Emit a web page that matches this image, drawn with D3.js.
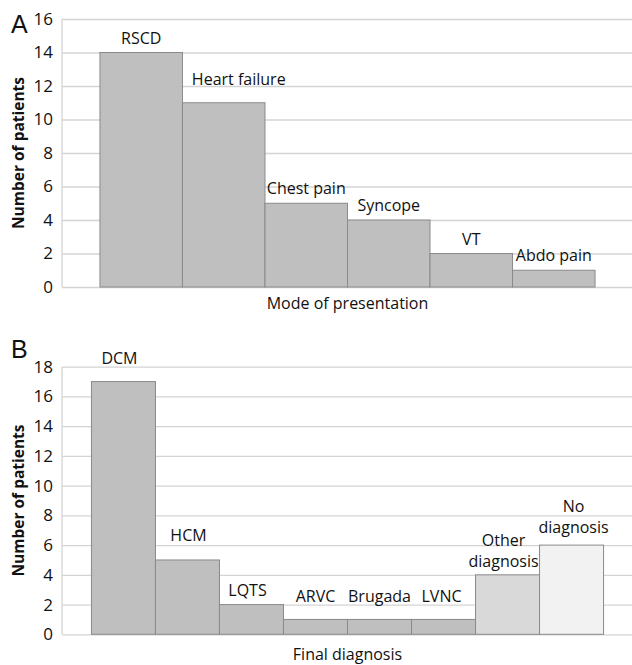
<!DOCTYPE html>
<html>
<head>
    <title>Presentation and diagnosis bar charts</title>
    <script src="https://cdnjs.cloudflare.com/ajax/libs/d3/7.8.5/d3.min.js"></script>
    <style>
        body { margin: 0; background: #fff; }
        .lbl { font-family: 'Open Sans', Lato, sans-serif; font-size: 16px; fill: #111; }
        .ttl { font-family: 'Open Sans', Lato, sans-serif; font-size: 15.5px; font-weight: bold; fill: #111; }
        .panel { font-family: 'Liberation Sans', Arial, sans-serif; font-size: 25px; fill: #111; }
    </style>
</head>
<body>
    <div id="chart"></div>

    <script>
//------------------------------------DATA--------------------------
        var modeCats = ["RSCD", "Heart failure", "Chest pain", "Syncope", "VT", "Abdo pain"];
        var modeValues = [14, 11, 5, 4, 2, 1];
        var modeTicks = [0, 2, 4, 6, 8, 10, 12, 14, 16];

        var diagCats = ["DCM", "HCM", "LQTS", "ARVC", "Brugada", "LVNC", "Other diagnosis", "No diagnosis"];
        var diagValues = [17, 5, 2, 1, 1, 1, 4, 6];
        var diagTicks = [0, 2, 4, 6, 8, 10, 12, 14, 16, 18];
//------------------------------------FINISHED----------------------

        // label tweaks (the labels were hand placed in the original)
        var nudgeA = { "Heart failure": [15, -9] };
        var nudgeB = { "DCM": [-4, -9], "HCM": [1, -10], "LQTS": [-4, 0],
                       "ARVC": [0, -8], "Brugada": [0, -8], "LVNC": [-2, -8],
                       "Other diagnosis": [-4, 1], "No diagnosis": [2, -3] };
        // two-line labels
        var wrapB = { "Other diagnosis": ["Other", "diagnosis"], "No diagnosis": ["No", "diagnosis"] };

        var svg = d3.select("#chart").append("svg")
            .attr("width", 632)
            .attr("height", 665);

        function fillPicker(name) {
            if (name === "Other diagnosis") { return "#d9d9d9"; }
            if (name === "No diagnosis") { return "#f2f2f2"; }
            return "#bfbfbf";
        }

//------------------------------------DRAWS ONE PANEL--------------------------
        function drawPanel(opt) {
            var g = svg.append("g");
            var left = 62, right = 633;

            var x = d3.scaleBand()
                .domain(opt.cats)
                .range([left, right])
                .paddingInner(0)
                .paddingOuter(0.46);
            var y = d3.scaleLinear()
                .domain([0, d3.max(opt.ticks)])
                .range([opt.bottom, opt.top]);

            //gridlines + tick labels from a left axis
            var axis = g.append("g")
                .attr("transform", "translate(" + left + ",0)")
                .call(d3.axisLeft(y).tickValues(opt.ticks).tickSize(-(right - left)).tickPadding(9));
            axis.select(".domain").remove();
            axis.selectAll(".tick line").attr("stroke", "#d4d4d4").attr("stroke-width", 1.3);
            axis.selectAll(".tick text")
                .attr("class", "lbl")
                .style("font-size", "17px")
                .attr("fill", "#111");

            //plot area left border
            g.append("line")
                .attr("x1", left).attr("x2", left)
                .attr("y1", y(d3.max(opt.ticks))).attr("y2", y(0))
                .attr("stroke", "#d4d4d4").attr("stroke-width", 1.3);

            //bars
            g.selectAll("rect.bar")
                .data(opt.cats)
                .enter()
                .append("rect")
                .attr("class", "bar")
                .attr("x", function (d) { return x(d); })
                .attr("width", x.bandwidth())
                .attr("y", function (d, i) { return y(opt.values[i]); })
                .attr("height", function (d, i) { return y(0) - y(opt.values[i]); })
                .attr("fill", function (d) { return fillPicker(d); })
                .attr("stroke", "#8a8a8a")
                .attr("stroke-width", 1);

            //labels above the bars
            var labels = g.selectAll("text.barlbl")
                .data(opt.cats)
                .enter()
                .append("text")
                .attr("class", "lbl barlbl")
                .attr("text-anchor", "middle")
                .attr("transform", function (d, i) {
                    var n = opt.nudge[d] || [0, 0];
                    var lines = opt.wrap[d] ? opt.wrap[d].length : 1;
                    var cx = x(d) + x.bandwidth() / 2 + n[0];
                    var cy = y(opt.values[i]) - 9 + n[1] - (lines - 1) * 21;
                    return "translate(" + cx + "," + cy + ")";
                });
            labels.each(function (d) {
                var parts = opt.wrap[d] || [d];
                d3.select(this).selectAll("tspan")
                    .data(parts)
                    .enter()
                    .append("tspan")
                    .attr("x", 0)
                    .attr("dy", function (p, k) { return k === 0 ? 0 : 21; })
                    .text(function (p) { return p; });
            });

            //axis titles
            g.append("text")
                .attr("class", "lbl")
                .attr("text-anchor", "middle")
                .attr("x", (left + right) / 2)
                .attr("y", opt.xTitleY)
                .text(opt.xTitle);
            g.append("text")
                .attr("class", "ttl")
                .attr("text-anchor", "middle")
                .attr("transform", "translate(24," + (opt.top + opt.bottom) / 2 + ") rotate(-90)")
                .text("Number of patients");

            //panel letter
            g.append("text")
                .attr("class", "panel")
                .attr("x", 11)
                .attr("y", opt.letterY)
                .text(opt.letter);
        }
//------------------------------------FINISHED--------------------------

        drawPanel({ cats: modeCats, values: modeValues, ticks: modeTicks,
                    top: 19, bottom: 287, nudge: nudgeA, wrap: {},
                    xTitle: "Mode of presentation", xTitleY: 309, letter: "A", letterY: 33 });

        drawPanel({ cats: diagCats, values: diagValues, ticks: diagTicks,
                    top: 366.7, bottom: 634.3, nudge: nudgeB, wrap: wrapB,
                    xTitle: "Final diagnosis", xTitleY: 660, letter: "B", letterY: 358 });
    </script>
</body>
</html>
